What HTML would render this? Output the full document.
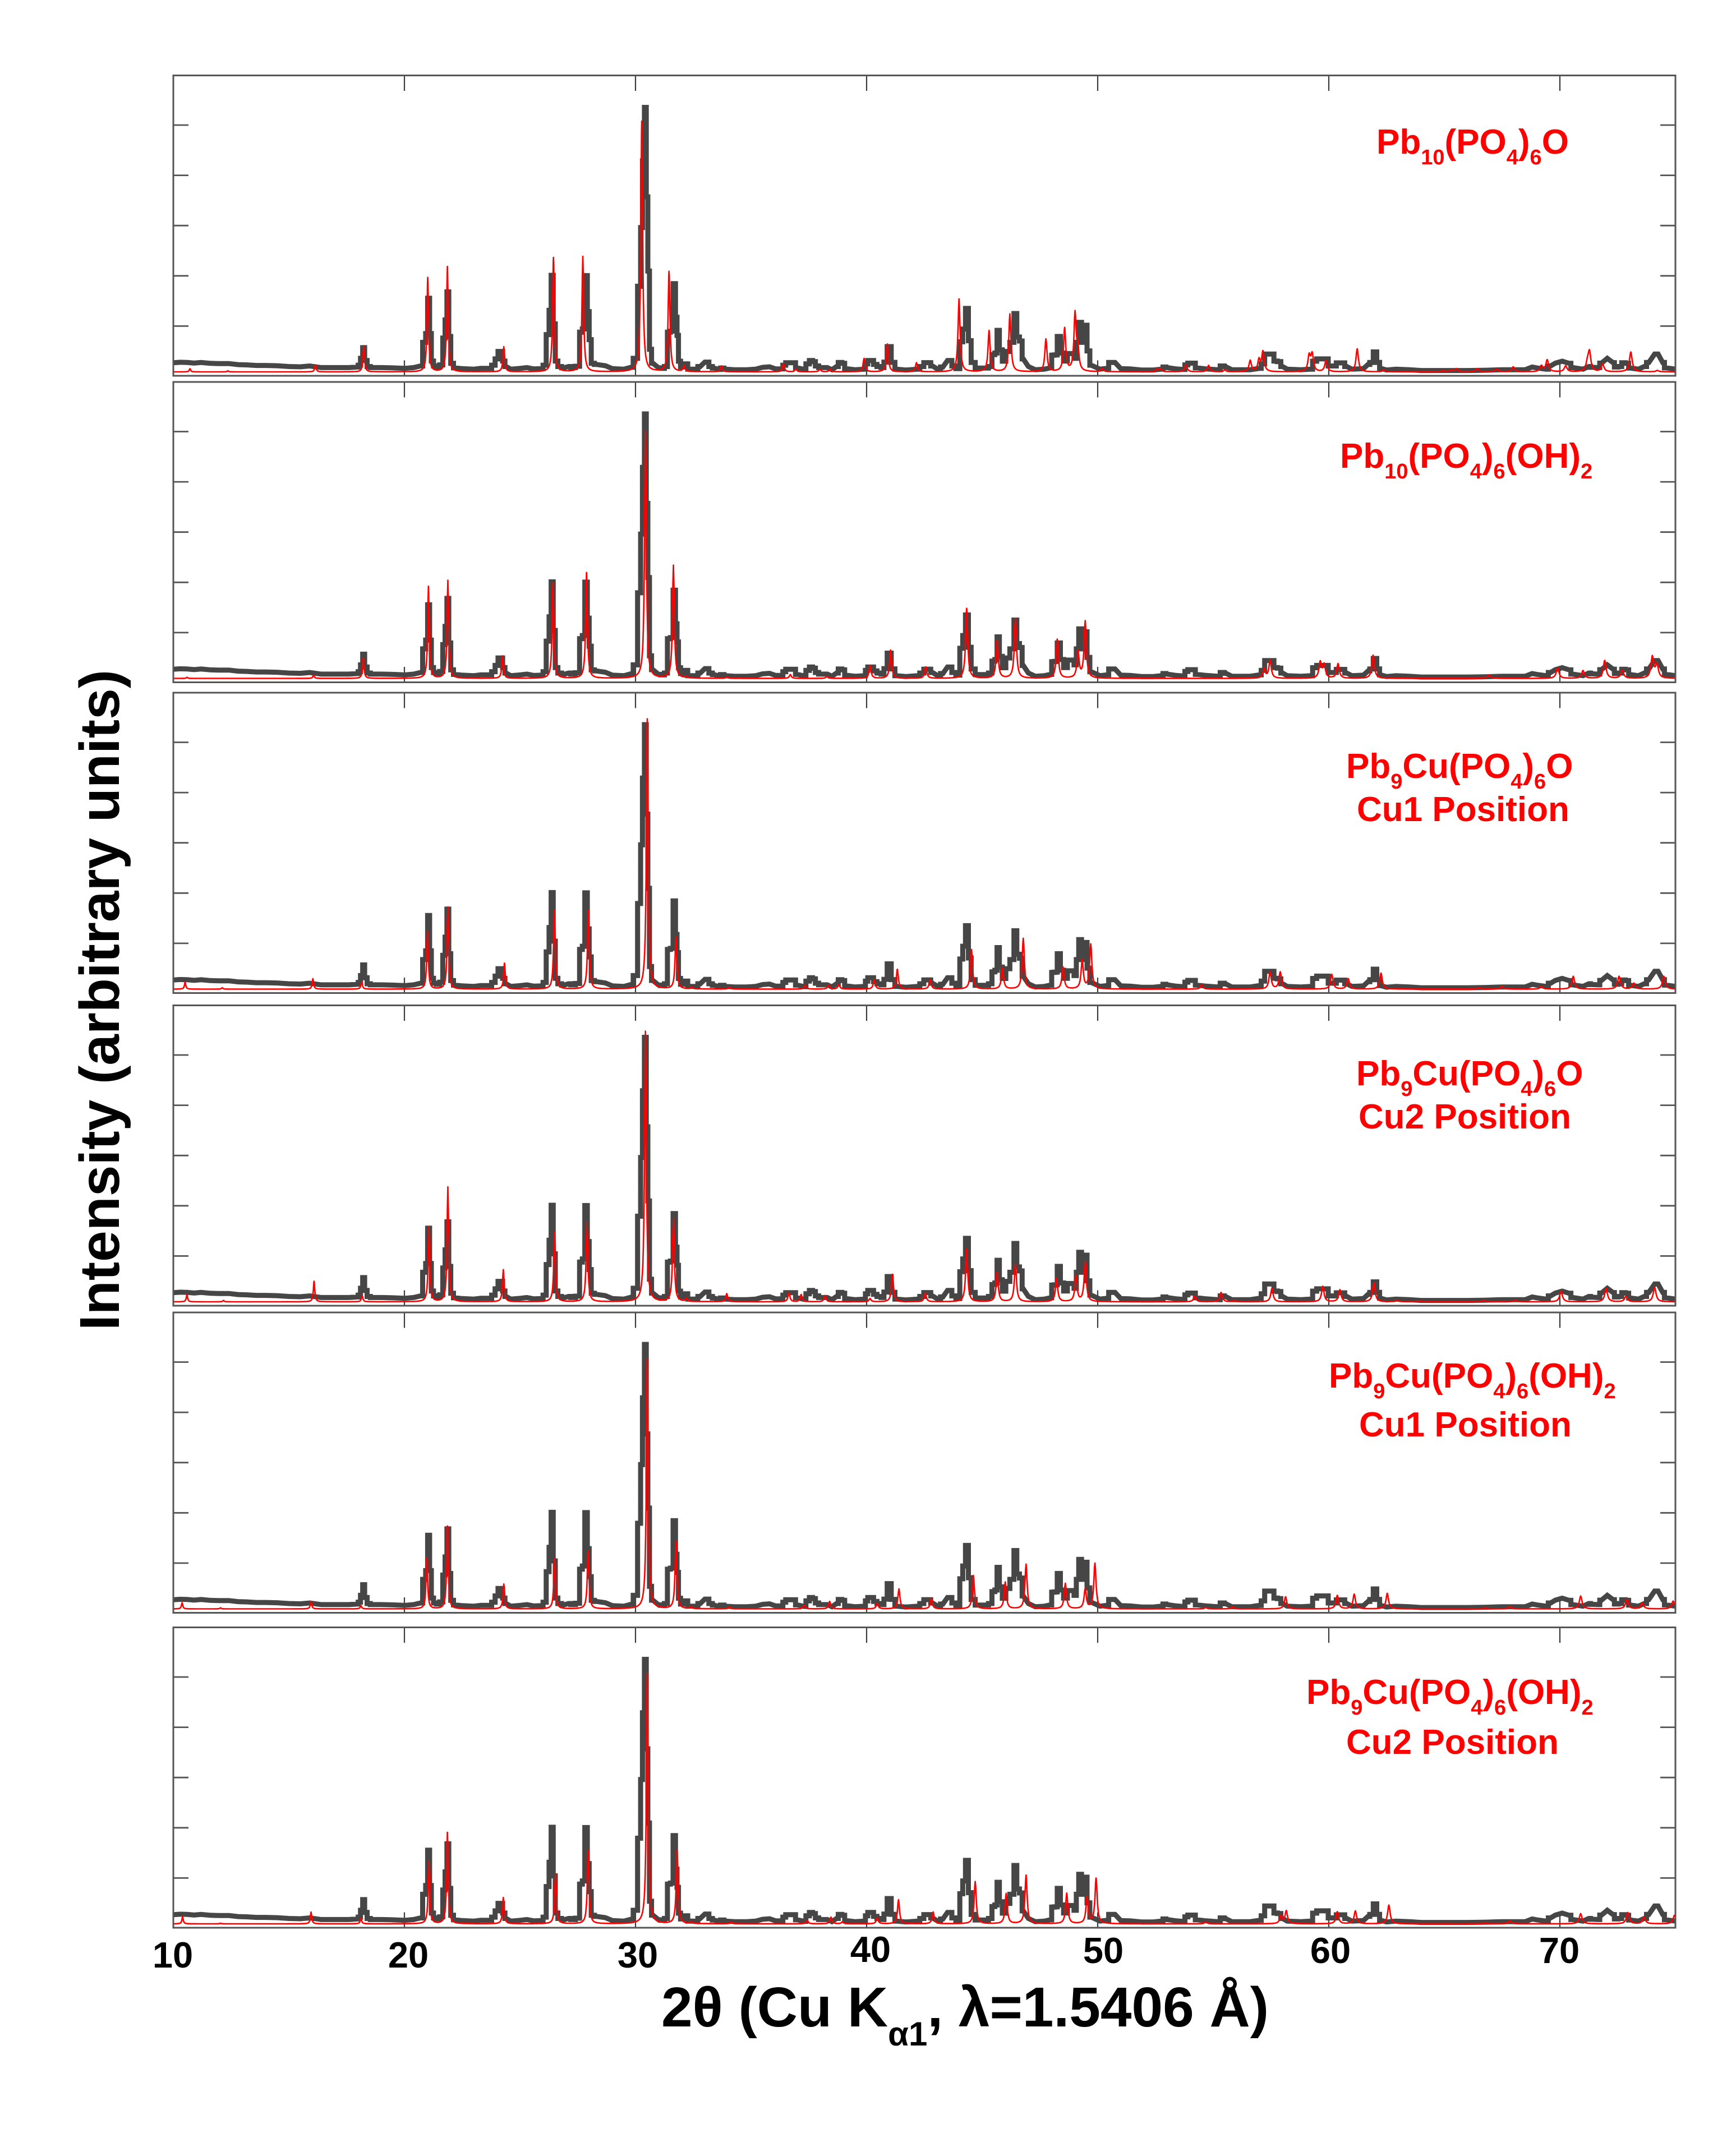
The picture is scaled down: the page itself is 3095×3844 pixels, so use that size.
<!DOCTYPE html>
<html lang="en">
<head>
<meta charset="utf-8">
<title>XRD patterns of Pb10(PO4)6O and Pb9Cu(PO4)6O variants</title>
<style>
html,body{margin:0;padding:0;background:#fff;}
svg{display:block;}
text{font-family:"Liberation Sans",Arial,sans-serif;font-weight:bold;}
.lab{fill:#ff0000;font-size:62px;}
.sub{font-size:38px;}
.tick{fill:#000;font-size:65px;text-anchor:middle;}
</style>
</head>
<body>
<svg id="chart" xmlns="http://www.w3.org/2000/svg" width="3095" height="3844" viewBox="0 0 3095 3844">
  <rect x="0" y="0" width="3095" height="3844" fill="#ffffff"/>
  <g id="panels"></g>

  <text class="lab" x="2454" y="274">Pb<tspan class="sub" dy="19">10</tspan><tspan dy="-19">(PO</tspan><tspan class="sub" dy="19">4</tspan><tspan dy="-19">)</tspan><tspan class="sub" dy="19">6</tspan><tspan dy="-19">O</tspan></text>

  <text class="lab" x="2389" y="834">Pb<tspan class="sub" dy="19">10</tspan><tspan dy="-19">(PO</tspan><tspan class="sub" dy="19">4</tspan><tspan dy="-19">)</tspan><tspan class="sub" dy="19">6</tspan><tspan dy="-19">(OH)</tspan><tspan class="sub" dy="19">2</tspan></text>

  <text class="lab" x="2400" y="1387">Pb<tspan class="sub" dy="19">9</tspan><tspan dy="-19">Cu(PO</tspan><tspan class="sub" dy="19">4</tspan><tspan dy="-19">)</tspan><tspan class="sub" dy="19">6</tspan><tspan dy="-19">O</tspan></text>
  <text class="lab" x="2419" y="1464">Cu1 Position</text>

  <text class="lab" x="2418" y="1935">Pb<tspan class="sub" dy="19">9</tspan><tspan dy="-19">Cu(PO</tspan><tspan class="sub" dy="19">4</tspan><tspan dy="-19">)</tspan><tspan class="sub" dy="19">6</tspan><tspan dy="-19">O</tspan></text>
  <text class="lab" x="2422" y="2012">Cu2 Position</text>

  <text class="lab" x="2369" y="2474">Pb<tspan class="sub" dy="19">9</tspan><tspan dy="-19">Cu(PO</tspan><tspan class="sub" dy="19">4</tspan><tspan dy="-19">)</tspan><tspan class="sub" dy="19">6</tspan><tspan dy="-19">(OH)</tspan><tspan class="sub" dy="19">2</tspan></text>
  <text class="lab" x="2423" y="2561">Cu1 Position</text>

  <text class="lab" x="2329" y="3038">Pb<tspan class="sub" dy="19">9</tspan><tspan dy="-19">Cu(PO</tspan><tspan class="sub" dy="19">4</tspan><tspan dy="-19">)</tspan><tspan class="sub" dy="19">6</tspan><tspan dy="-19">(OH)</tspan><tspan class="sub" dy="19">2</tspan></text>
  <text class="lab" x="2400" y="3127">Cu2 Position</text>

  <text class="tick" x="308" y="3508">10</text>
  <text class="tick" x="728" y="3508">20</text>
  <text class="tick" x="1137" y="3508">30</text>
  <text class="tick" x="1552" y="3498">40</text>
  <text class="tick" x="1967" y="3500">50</text>
  <text class="tick" x="2372" y="3500">60</text>
  <text class="tick" x="2780" y="3500">70</text>

  <text x="1179" y="3613" font-size="100" fill="#000">2θ (Cu K<tspan font-size="60" dy="34">α1</tspan><tspan dy="-34">, λ=1.5406 Å)</tspan></text>
  <text transform="translate(212,1783) rotate(-90)" text-anchor="middle" font-size="100" fill="#000">Intensity (arbitrary units)</text>
</svg>

<script>
/* Observed pattern (same measurement in all panels): 2-theta (deg) and relative intensity (% of main peak) */
const obsTheta = [
10.0,10.3,10.6,10.9,11.2,11.6,12.0,12.4,12.8,13.2,
13.6,14.0,14.5,15.0,15.5,15.9,16.4,17.0,17.6,17.95,
18.05,18.15,18.24,18.32,18.45,18.6,19.0,19.5,20.0,20.4,
20.7,20.88,20.96,21.05,21.13,21.2,21.32,21.45,21.6,21.72,
21.8,21.88,21.96,22.05,22.2,22.5,23.0,23.3,23.7,23.85,
24.0,24.1,24.2,24.3,24.4,24.6,25.0,25.3,25.6,25.95,
26.05,26.22,26.3,26.4,26.48,26.58,26.7,26.9,27.1,27.3,
27.5,27.66,27.74,27.87,27.96,28.03,28.14,28.3,28.7,29.0,
29.5,29.8,30.0,30.18,30.26,30.34,30.43,30.5,30.57,30.64,
30.75,31.0,31.2,31.3,31.46,31.56,31.69,31.77,31.82,31.9,
32.0,32.17,32.35,32.6,32.8,33.0,33.1,33.25,33.4,33.6,
33.75,33.9,34.3,34.8,35.2,35.5,35.8,36.1,36.3,36.45,
36.55,36.85,37.0,37.3,37.45,37.6,37.72,37.85,38.0,38.3,
38.5,38.7,38.85,39.0,39.1,39.5,39.9,40.0,40.1,40.25,
40.35,40.55,40.7,40.8,40.98,41.15,41.3,41.7,42.2,42.4,
42.55,42.7,42.85,43.1,43.3,43.5,43.6,43.78,43.95,44.12,
44.2,44.36,44.45,44.6,44.8,45.2,45.35,45.5,45.6,45.69,
45.8,45.95,46.1,46.3,46.45,46.55,46.68,46.78,47.0,47.3,
47.7,47.95,48.07,48.18,48.32,48.45,48.6,48.78,48.92,49.03,
49.12,49.24,49.36,49.48,49.6,49.72,50.1,50.4,50.55,50.75,
51.0,51.4,51.9,52.4,52.75,52.9,53.0,53.4,53.7,53.85,
53.95,54.15,54.3,54.7,55.2,55.4,55.55,55.8,56.6,57.0,
57.15,57.3,57.55,57.7,57.85,58.0,58.2,58.8,59.2,59.4,
59.55,59.9,60.05,60.25,60.4,60.6,60.78,61.0,61.5,61.7,
61.85,62.0,62.15,62.25,62.5,62.9,63.5,64.0,65.0,66.0,
66.8,67.5,68.5,68.8,69.0,69.4,69.6,69.8,70.1,70.4,
70.55,71.0,71.25,71.4,71.65,71.8,72.05,72.3,72.42,72.6,
72.75,72.9,73.05,73.4,73.65,73.85,74.1,74.25,74.45,74.6,
75.0];
const obsIntensity = [
3.4,3.6,3.5,3.3,3.5,3.2,3.1,3.1,2.7,2.6,
2.4,2.4,2.3,2.0,1.9,2.2,1.6,1.6,1.6,1.8,
2.5,6,10,5.2,2,1.6,1.6,1.5,1.3,1.6,
2.2,12,15.3,28.5,15.3,5,2.2,1.8,2.6,13.6,
20.4,30.9,14.2,3.2,1.5,1.2,1.0,1.3,1.3,2.5,
5.8,8.6,8.6,5,2,1,1.3,1.6,1.1,1.2,
2.5,14.9,24,37.1,18.9,5,2,1.5,2,1.6,
2.1,15.8,17,37,23.5,13,3.2,2.8,2.3,1.2,
1,1.7,6,33,55,80,100,66.5,38.7,9.4,
4.2,1.5,1.3,2,15.8,16.2,34,21.4,14.6,4,
1.8,3,1,1,2,4.6,4.6,2,1.4,0.9,
1.4,1,0.8,0.8,1,1.7,1.9,1,1.1,2.5,
3.4,3.4,1.5,0.9,3,5.2,4.8,2.2,1.6,1.6,
0.8,2,3.5,3.2,1.2,0.8,1,3,5.2,5.2,
2.8,2,1.6,4.6,10.4,4.5,1,0.7,1,2,
4.4,4.4,2.2,0.9,1.8,5.2,5.2,2.2,1.2,12.2,
17,24.7,12.6,3.5,1.4,1.4,2,7.4,8,16.5,
9.2,4,8.6,12,22.8,14,12.5,5.8,2,0.8,
1,1.5,7.2,7.3,14.2,8,5,7.8,7.8,6,
12,19.5,12,18.4,8.8,2.5,1,1.3,3.5,3.5,
1.2,1.1,0.7,0.7,1,1.8,1.6,1.1,0.9,2.6,
4.2,4.2,1.5,1.1,0.8,2.2,1.9,0.8,0.8,1.3,
3,7.6,7.6,5,4.8,2,1,0.8,1,4,
5.8,5.8,2.2,2.2,4.3,4.3,2,1,1.2,2.8,
3.5,8.4,4.5,1.3,0.7,1,0.8,0.5,0.5,0.5,
0.6,0.8,0.8,1.8,1.5,1,2.2,4.2,4,3.2,
1.6,1,2,1.7,1.6,4.2,6,4.4,1.8,2,
3.4,3.2,1.4,1,2,3.5,7.6,7.6,3.5,1.5,
1];

/* Calculated patterns: peak positions and heights */
const calcPos1 = [10.72,12.36,16.15,18.24,21.01,21.86,24.3,26.45,27.72,30.27,31.45,32.1,33.72,36.4,36.94,37.98,38.42,39.89,40.9,42.16,44.0,45.3,46.2,47.76,48.57,49.02,49.14,50.2,52.56,52.72,53.82,54.8,55.5,56.6,56.98,57.15,59.15,59.28,59.88,61.23,62.38,64.93,65.3,65.52,66.42,67.26,67.98,69.2,69.45,70.25,71.19,71.28,71.85,73.07,74.22];
const calcInt1 = [1.2,0.4,2.6,9.8,35.3,39.4,9.4,42.8,43.2,93.8,37.5,2.2,2.2,3,1,1,1,5,10.4,3.4,27.3,15.4,21.6,12.2,16.2,21.3,7.8,1.2,1,1.2,2.6,2.4,0.7,4.2,4.4,7.4,5.8,6.4,4.2,8.6,0.7,0.4,0.6,1.2,1.2,1.1,1.9,2.2,4.4,2.2,2.8,7.2,2.8,7.4,0.5];

const calcPos2 = [10.59,16.07,18.22,21.04,21.88,24.25,26.43,27.88,30.43,31.64,32.2,33.95,36.7,38.28,40.15,41.04,42.56,44.33,45.65,46.44,48.25,49.15,49.46,57.2,57.46,59.63,59.8,60.4,61.92,66.94,69.9,71.0,71.94,72.7,74.0,74.2];
const calcInt2 = [0.4,1.2,7.5,34.4,36.7,8.4,35.8,39.6,92.6,42.3,0.5,0.5,1.4,0.7,4.7,10.6,4.3,26.2,14,22.4,14.6,9.8,21.3,3.5,6.7,6,5,5.5,8.7,1.3,3.9,2.9,6.7,3,8,5];

const calcPos3 = [10.51,12.12,16.04,18.15,21.0,21.88,24.33,26.49,27.96,30.51,31.75,32.43,34.06,37.35,38.35,38.8,40.33,41.33,42.75,44.54,45.88,46.78,48.5,49.33,49.7,54.5,57.46,57.9,60.13,60.84,62.26,66.5,67.5,69.2,70.58,72.56,73.2,74.5];
const calcInt3 = [2.7,0.5,3.9,2.7,21.6,30.7,9.7,29.6,29.6,101.2,19.5,0.7,0.7,1.4,1.5,1.7,3.4,7.4,3.5,14.8,7.9,19,8.2,10.8,16.7,1.6,6.4,6.4,5.5,3.9,6,0.5,1,1,4.8,4.8,2.2,4.8];

const calcPos4 = [10.59,12.17,16.09,18.17,21.06,21.88,24.28,26.5,27.9,30.43,31.64,32.2,33.95,36.64,37.17,38.2,40.15,41.12,42.54,44.33,45.65,46.44,48.22,49.06,49.46,54.2,55.34,55.9,57.54,59.74,60.48,61.95,62.96,63.97,66.7,68.07,70.05,72.0,72.86,74.1];
const calcInt4 = [2.7,0.5,7.7,2.3,28,43,12,26.2,29.8,101.3,30.9,1.2,3,3.4,2.7,2.3,1.2,10.3,3.2,19.7,11,14,8.8,9.6,15,2.2,3.5,0.5,5,5.8,4.5,7,0.6,0.3,0.5,0.6,4,5,2,5.4];

const calcPos5 = [10.38,12.04,15.96,18.12,20.97,21.86,24.3,26.5,27.95,30.51,31.75,32.4,34.06,37.3,38.4,40.46,41.4,42.8,44.62,46.0,46.9,48.6,49.46,49.88,54.68,55.84,58.13,60.37,61.1,62.53,66.8,67.84,70.9,72.9,73.56,74.9];
const calcInt5 = [2.3,0.4,2.8,1.2,19,31,9.3,18.7,21.6,93.6,25.3,0.7,0.7,1.4,2.8,2.1,7.5,3.9,12.5,10,16.7,9.5,7.4,17,0.5,0.7,4.5,5,5.5,5.8,0.3,0.8,4.8,3.5,2.2,2.9];

const calcPos6 = [10.4,12.04,15.96,18.12,21.06,21.86,24.28,26.54,27.95,30.51,31.8,32.4,34.14,37.43,38.46,38.95,40.46,41.38,42.88,44.7,46.04,46.9,48.66,49.54,49.93,54.68,57.93,58.16,60.37,61.15,62.6,66.75,67.84,70.9,72.94,73.64,74.96];
const calcInt6 = [2.7,0.2,4.4,2,23.4,34.2,9.8,18.7,27.6,93.7,27.4,0.7,0.6,1.3,2.5,0.7,2.2,9,4.4,15.8,11.3,18.2,11.4,10,16.9,0.7,3,4.8,4.5,4.8,7,0.3,1.1,3.8,4.2,2.5,3.2];

const xTicks = [20,30,40,50,60,70];
const yTicks = [20,40,60,80,100];

/* Layout */
const NS = 'http://www.w3.org/2000/svg';
const panelTops = [134.5,681,1235,1792.5,2340,2901.5];
const panelNames = ['pb10-o','pb10-oh','pb9cu-o-cu1','pb9cu-o-cu2','pb9cu-oh-cu1','pb9cu-oh-cu2'];
const calcPosAll = [calcPos1,calcPos2,calcPos3,calcPos4,calcPos5,calcPos6];
const calcIntAll = [calcInt1,calcInt2,calcInt3,calcInt4,calcInt5,calcInt6];
const LEFT = 309, RIGHT = 2987, PANEL_H = 535.5, BASE_OFFSET = 7, PX_PER_PCT = 4.76, TICK_LEN = 27.5;
const OBS_STROKE = 9;
const STEP_GAP = 0.2;

function xScale(theta){ return LEFT + (theta - 10) * (RIGHT - LEFT) / 65; }
function yScale(top, value){ return top + PANEL_H - BASE_OFFSET - value * PX_PER_PCT; }
function yTickPos(top, value){ return top + 88.5 + (100 - value) / 20 * 89.6; }

/* Peak tops were read as the upper edge of the thick trace; baseline values as its centre. */
function obsY(top, value){
  return yScale(top, value) + (value > 4 ? OBS_STROKE / 2 : 0);
}

/* Blocky steps across the tightly sampled peaks, plain segments along the sparse background. */
function obsPath(top){
  let d = 'M' + xScale(obsTheta[0]).toFixed(1) + ' ' + obsY(top, obsIntensity[0]).toFixed(1);
  for (let i = 1; i < obsTheta.length; i++){
    const yNext = obsY(top, obsIntensity[i]).toFixed(1);
    if (obsTheta[i] - obsTheta[i - 1] < STEP_GAP){
      const mid = xScale((obsTheta[i - 1] + obsTheta[i]) / 2).toFixed(1);
      d += 'H' + mid + 'V' + yNext + 'H' + xScale(obsTheta[i]).toFixed(1);
    } else {
      d += 'L' + xScale(obsTheta[i]).toFixed(1) + ' ' + yNext;
    }
  }
  return d;
}

function calcProfile(pos, ints, t){
  let s = 0;
  for (let i = 0; i < pos.length; i++){
    const w = 0.033 + 0.0006 * (pos[i] - 10);
    const d = t - pos[i];
    s += ints[i] * w * w / (d * d + w * w);
  }
  return s;
}

function calcSamples(pos){
  const arr = [];
  for (let t = 10; t <= 75.0001; t += 0.02) arr.push(t);
  for (let i = 0; i < pos.length; i++) arr.push(pos[i]);
  return arr.sort(function(a,b){ return a - b; });
}

function makeLine(x1,y1,x2,y2,w,c){
  const l = document.createElementNS(NS,'line');
  l.setAttribute('x1',x1); l.setAttribute('y1',y1);
  l.setAttribute('x2',x2); l.setAttribute('y2',y2);
  l.setAttribute('stroke',c); l.setAttribute('stroke-width',w);
  return l;
}

const root = document.getElementById('panels');
panelTops.forEach(function(top, p){
  const g = document.createElementNS(NS,'g');
  
  
  root.appendChild(g);
  const bottom = top + PANEL_H;

  xTicks.forEach(function(v){
    const tTop = makeLine(xScale(v),top,xScale(v),top + TICK_LEN,2.2,'#3a3a3a');
    
    
    g.appendChild(tTop);
    const tBot = makeLine(xScale(v),bottom - TICK_LEN,xScale(v),bottom,2.2,'#3a3a3a');
    
    
    g.appendChild(tBot);
  });
  yTicks.forEach(function(v){
    const y = yTickPos(top, v);
    const tl = makeLine(LEFT,y,LEFT + 27,y,2.8,'#555');
    
    
    g.appendChild(tl);
    const tr = makeLine(RIGHT - 27,y,RIGHT,y,2.8,'#555');
    
    
    g.appendChild(tr);
  });

  const obs = document.createElementNS(NS,'path');
  
  
  obs.setAttribute('fill','none');
  obs.setAttribute('stroke','#464646');
  obs.setAttribute('stroke-width',OBS_STROKE);
  obs.setAttribute('stroke-linejoin','miter');
  obs.setAttribute('stroke-miterlimit','4');
  obs.setAttribute('d', obsPath(top));
  g.appendChild(obs);

  const pos = calcPosAll[p], ints = calcIntAll[p];
  const calc = document.createElementNS(NS,'polyline');
  
  
  calc.setAttribute('fill','none');
  calc.setAttribute('stroke','#ff0000');
  calc.setAttribute('stroke-width','2.6');
  calc.setAttribute('stroke-linejoin','round');
  calc.setAttribute('points', calcSamples(pos).map(function(t){
    return xScale(t).toFixed(1) + ',' + yScale(top, calcProfile(pos, ints, t)).toFixed(1);
  }).join(' '));
  g.appendChild(calc);

  const frame = document.createElementNS(NS,'rect');
  
  
  frame.setAttribute('x',LEFT); frame.setAttribute('y',top);
  frame.setAttribute('width',RIGHT - LEFT); frame.setAttribute('height',PANEL_H);
  frame.setAttribute('fill','none');
  frame.setAttribute('stroke','#555');
  frame.setAttribute('stroke-width','3');
  g.appendChild(frame);
});
</script>
</body>
</html>
